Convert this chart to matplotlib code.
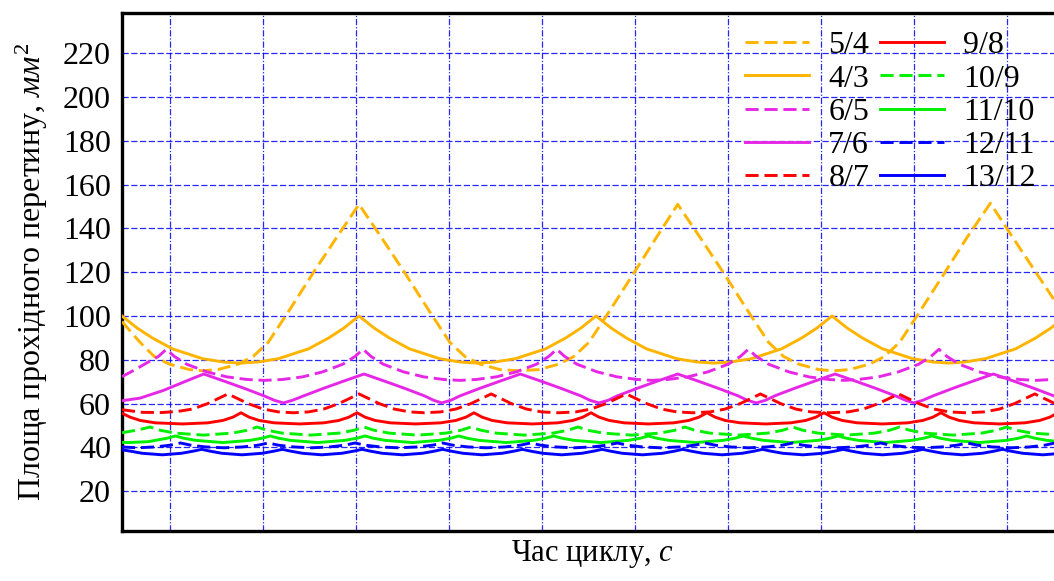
import matplotlib
matplotlib.use("Agg")
import matplotlib.pyplot as plt

plt.rcParams['font.family'] = ['Liberation Serif', 'DejaVu Serif']
plt.rcParams['mathtext.fontset'] = 'custom'
plt.rcParams['mathtext.rm'] = 'Liberation Serif'
plt.rcParams['mathtext.it'] = 'Liberation Serif:italic'

# час (умовні одиниці) і площа прохідного перетину, мм^2
t_54 = [0, 12, 20, 32, 47, 67, 80, 95, 115, 130, 145, 165, 190, 213, 235, 257, 280, 305, 325, 340,
        355, 375, 393, 413, 433, 448, 463, 483, 508, 530, 551, 573, 596, 621, 641, 656, 671, 691,
        706, 721, 741, 756, 771, 791, 816, 838, 861, 883, 906, 932]
a_54 = [97.5, 91, 87, 81.5, 78, 75.5, 75, 75.5, 78, 81.5, 88, 102, 120, 136, 151, 136, 120, 102, 88,
        81.5, 78, 75.5, 75, 75.5, 78, 81.5, 88, 102, 120, 136, 151, 136, 120, 102, 88, 81.5, 78,
        75.5, 75, 75.5, 78, 81.5, 88, 102, 120, 136, 151.5, 136, 120, 102]

t_43 = [0, 15, 30, 50, 80, 100, 117, 135, 155, 185, 205, 220, 235, 250, 265, 285, 315, 335, 352,
        370, 390, 420, 440, 455, 470, 485, 500, 520, 550, 570, 587, 604, 624, 654, 674, 689, 704,
        719, 734, 754, 784, 804, 820, 836, 856, 886, 906, 921, 932]
a_43 = [100, 94.5, 90, 85, 80.5, 79, 78.5, 79, 80.5, 85, 90, 94.5, 100, 94.5, 90, 85, 80.5, 79, 78.5,
        79, 80.5, 85, 90, 94.5, 100, 94.5, 90, 85, 80.5, 79, 78.5, 79, 80.5, 85, 90, 94.5, 100,
        94.5, 90, 85, 80.5, 79, 78.5, 79, 80.5, 85, 90, 94.5, 98.5]

t_65 = [0, 13, 28, 36, 44, 52, 64, 84, 104, 124, 141, 159, 179, 199, 219, 231, 239, 247, 259, 279,
        299, 319, 335, 351, 371, 391, 411, 423, 431, 439, 451, 471, 491, 511, 526, 541, 561, 581,
        601, 613, 621, 629, 641, 661, 681, 701, 716, 730, 750, 770, 790, 802, 810, 818, 830, 850,
        870, 890, 906, 922, 932]
a_65 = [72.3, 75.5, 79.5, 81.5, 84.8, 81.5, 78, 74.5, 72.2, 71, 70.6, 71, 72.2, 74.5, 78, 81.5, 84.8,
        81.5, 78, 74.5, 72.2, 71, 70.6, 71, 72.2, 74.5, 78, 81.5, 84.8, 81.5, 78, 74.5, 72.2, 71,
        70.6, 71, 72.2, 74.5, 78, 81.5, 84.8, 81.5, 78, 74.5, 72.2, 71, 70.6, 71, 72.2, 74.5, 78,
        81.5, 84.8, 81.5, 78, 74.5, 72.2, 71, 70.6, 71, 71.6]

t_76 = [0, 18, 41, 61, 81, 101, 121, 141, 151, 160, 169, 180, 200, 220, 240, 260, 280, 300, 309,
        317, 326, 335, 355, 375, 395, 415, 435, 455, 464, 473, 482, 491, 511, 531, 551, 571, 591,
        611, 620, 629, 638, 647, 667, 687, 707, 727, 747, 767, 777, 785, 794, 804, 824, 844, 864,
        884, 904, 924, 932]
a_76 = [61.3, 62.5, 66, 69.8, 73.5, 70.3, 67, 63.5, 61.5, 60.3, 61.5, 63.5, 67, 70.3, 73.5, 70.3, 67,
        63.5, 61.5, 60.3, 61.5, 63.5, 67, 70.3, 73.5, 70.3, 67, 63.5, 61.5, 60.3, 61.5, 63.5, 67,
        70.3, 73.5, 70.3, 67, 63.5, 61.5, 60.3, 61.5, 63.5, 67, 70.3, 73.5, 70.3, 67, 63.5, 61.5,
        60.3, 61.5, 63.5, 67, 70.3, 73.5, 70.3, 67, 63.5, 62]

t_87 = [0, 20, 39, 55, 70, 85, 95, 105, 115, 125, 140, 155, 170, 185, 200, 215, 225, 235, 245, 255,
        270, 285, 300, 316, 331, 346, 356, 366, 376, 386, 401, 416, 433, 450, 465, 480, 490, 500,
        510, 520, 535, 550, 566, 583, 598, 613, 623, 633, 643, 653, 668, 683, 701, 720, 735, 750,
        760, 770, 780, 790, 805, 820, 837, 855, 870, 885, 895, 905, 915, 925, 932]
a_87 = [57.2, 56, 55.9, 56.4, 57.5, 60, 62.2, 64.4, 62.2, 60, 57.5, 56.2, 55.8, 56.2, 57.5, 60, 62.2,
        64.4, 62.2, 60, 57.5, 56.2, 55.8, 56.2, 57.5, 60, 62.2, 64.4, 62.2, 60, 57.5, 56.2, 55.8,
        56.2, 57.5, 60, 62.2, 64.4, 62.2, 60, 57.5, 56.2, 55.8, 56.2, 57.5, 60, 62.2, 64.4, 62.2,
        60, 57.5, 56.2, 55.8, 56.2, 57.5, 60, 62.2, 64.4, 62.2, 60, 57.5, 56.2, 55.8, 56.2, 57.5,
        60, 62.2, 64.4, 62.2, 60, 58.6]

t_98 = [0, 8, 18, 33, 60, 85, 100, 110, 118, 126, 136, 151, 176, 200, 215, 225, 233, 241, 251, 266,
        291, 316, 331, 341, 349, 357, 367, 382, 407, 432, 447, 457, 465, 473, 483, 498, 522, 547,
        562, 572, 580, 588, 598, 613, 638, 663, 678, 688, 696, 704, 714, 729, 754, 779, 794, 804,
        812, 820, 830, 845, 870, 895, 910, 920, 928, 932]
a_98 = [55.6, 53.8, 52.3, 51.2, 50.7, 51.2, 52.3, 53.8, 55.8, 53.8, 52.3, 51.2, 50.7, 51.2, 52.3,
        53.8, 55.8, 53.8, 52.3, 51.2, 50.7, 51.2, 52.3, 53.8, 55.8, 53.8, 52.3, 51.2, 50.7, 51.2,
        52.3, 53.8, 55.8, 53.8, 52.3, 51.2, 50.7, 51.2, 52.3, 53.8, 55.8, 53.8, 52.3, 51.2, 50.7,
        51.2, 52.3, 53.8, 55.8, 53.8, 52.3, 51.2, 50.7, 51.2, 52.3, 53.8, 55.8, 53.8, 52.3, 51.2,
        50.7, 51.2, 52.3, 53.8, 55.8, 55.3]

t_109 = [0, 10, 18, 28, 38, 53, 81, 109, 124, 134, 144, 159, 187, 215, 230, 240, 250, 265, 293, 321,
         336, 346, 356, 371, 399, 427, 442, 452, 462, 477, 505, 533, 548, 558, 568, 583, 611, 640,
         655, 665, 675, 690, 718, 746, 761, 771, 781, 796, 824, 852, 867, 877, 887, 902, 932]
a_109 = [46.7, 47.5, 48.2, 49.3, 47.8, 46.5, 45.6, 46.5, 47.8, 49.3, 47.8, 46.5, 45.6, 46.5, 47.8,
         49.3, 47.8, 46.5, 45.6, 46.5, 47.8, 49.3, 47.8, 46.5, 45.6, 46.5, 47.8, 49.3, 47.8, 46.5,
         45.6, 46.5, 47.8, 49.3, 47.8, 46.5, 45.6, 46.5, 47.8, 49.3, 47.8, 46.5, 45.6, 46.5, 47.8,
         49.3, 47.8, 46.5, 45.6, 46.5, 47.8, 49.3, 47.8, 46.5, 45.6]

t_1110 = [0, 6, 26, 33, 45, 53, 61, 73, 100, 127, 139, 147, 155, 167, 194, 221, 233, 241, 249, 261,
          288, 314, 326, 334, 342, 354, 381, 408, 420, 428, 436, 448, 475, 502, 514, 522, 530, 542,
          569, 596, 608, 616, 624, 636, 663, 690, 702, 710, 718, 730, 757, 783, 795, 803, 811, 823,
          850, 877, 889, 897, 905, 917, 932]
a_1110 = [42.3, 42.2, 42.6, 43.2, 44.2, 45.2, 44.2, 43.2, 42.2, 43.2, 44.2, 45.2, 44.2, 43.2, 42.2,
          43.2, 44.2, 45.2, 44.2, 43.2, 42.2, 43.2, 44.2, 45.2, 44.2, 43.2, 42.2, 43.2, 44.2, 45.2,
          44.2, 43.2, 42.2, 43.2, 44.2, 45.2, 44.2, 43.2, 42.2, 43.2, 44.2, 45.2, 44.2, 43.2, 42.2,
          43.2, 44.2, 45.2, 44.2, 43.2, 42.2, 43.2, 44.2, 45.2, 44.2, 43.2, 42.2, 43.2, 44.2, 45.2,
          44.2, 43.2, 42.6]

t_1211 = [0, 15, 33, 48, 58, 68, 83, 101, 120, 135, 145, 155, 170, 188, 206, 221, 231, 241, 256,
          274, 293, 308, 318, 328, 343, 361, 380, 395, 405, 415, 430, 448, 466, 481, 491, 501, 516,
          534, 553, 568, 578, 588, 603, 621, 640, 655, 665, 675, 690, 708, 727, 742, 752, 762, 777,
          795, 813, 828, 838, 848, 863, 881, 900, 915, 925, 932]
a_1211 = [40.2, 39.8, 40.2, 41, 42, 41, 40.2, 39.8, 40.2, 41, 42, 41, 40.2, 39.8, 40.2, 41, 42, 41,
          40.2, 39.8, 40.2, 41, 42, 41, 40.2, 39.8, 40.2, 41, 42, 41, 40.2, 39.8, 40.2, 41, 42, 41,
          40.2, 39.8, 40.2, 41, 42, 41, 40.2, 39.8, 40.2, 41, 42, 41, 40.2, 39.8, 40.2, 41, 42, 41,
          40.2, 39.8, 40.2, 41, 42, 41, 40.2, 39.8, 40.2, 41, 42, 41.3]

t_1312 = [0, 8, 20, 40, 59, 71, 79, 87, 99, 119, 139, 151, 159, 167, 179, 198, 218, 230, 238, 246,
          258, 278, 298, 310, 318, 326, 338, 357, 377, 389, 397, 405, 417, 436, 456, 468, 476, 484,
          496, 516, 536, 548, 556, 564, 576, 595, 615, 627, 635, 643, 655, 675, 695, 707, 715, 723,
          735, 754, 774, 786, 794, 802, 814, 833, 853, 865, 873, 881, 893, 913, 932]
a_1312 = [38.9, 38.3, 37.3, 36.6, 37.3, 38.3, 39.1, 38.3, 37.3, 36.6, 37.3, 38.3, 39.1, 38.3, 37.3,
          36.6, 37.3, 38.3, 39.1, 38.3, 37.3, 36.6, 37.3, 38.3, 39.1, 38.3, 37.3, 36.6, 37.3, 38.3,
          39.1, 38.3, 37.3, 36.6, 37.3, 38.3, 39.1, 38.3, 37.3, 36.6, 37.3, 38.3, 39.1, 38.3, 37.3,
          36.6, 37.3, 38.3, 39.1, 38.3, 37.3, 36.6, 37.3, 38.3, 39.1, 38.3, 37.3, 36.6, 37.3, 38.3,
          39.1, 38.3, 37.3, 36.6, 37.3, 38.3, 39.1, 38.3, 37.3, 36.6, 37.3]

series = [
    ('5/4', t_54, a_54, '#ffb400', 'dash'),
    ('4/3', t_43, a_43, '#ffb400', 'solid'),
    ('6/5', t_65, a_65, '#e628e6', 'dash'),
    ('7/6', t_76, a_76, '#e628e6', 'solid'),
    ('8/7', t_87, a_87, '#ff0000', 'dash'),
    ('9/8', t_98, a_98, '#ff0000', 'solid'),
    ('10/9', t_109, a_109, '#00f000', 'dash'),
    ('11/10', t_1110, a_1110, '#00f000', 'solid'),
    ('12/11', t_1211, a_1211, '#0000ff', 'dash'),
    ('13/12', t_1312, a_1312, '#0000ff', 'solid'),
]

y_ticks = [20, 40, 60, 80, 100, 120, 140, 160, 180, 200, 220]
x_grid = [47.3, 139.5, 231.7, 323.9, 416.1, 508.3, 600.5, 692.7, 784.9, 877.1]

fig = plt.figure(figsize=(10.54, 5.81), dpi=100)
ax = fig.add_axes([122 / 1054, 1 - 531 / 581, 940 / 1054, 518 / 581])

for label, t, a, color, style in series:
    ls = (0, (4.5, 2)) if style == 'dash' else '-'
    ax.plot(t, a, color=color, lw=2.1, linestyle=ls, label=label, zorder=3)

ax.set_xlim(0, 932)
ax.set_ylim(1.8, 238.4)
ax.set_yticks(y_ticks)
ax.set_xticks(x_grid)
ax.set_xticklabels([])
ax.tick_params(length=0, labelsize=23, pad=8)

ax.grid(axis='y', color='#0000ff', lw=0.9, linestyle=(0, (5, 2)), alpha=0.85)
ax.grid(axis='x', color='#0000ff', lw=0.9, linestyle=(0, (5, 1.5, 1, 1.5)), alpha=0.85)

for side in ['left', 'bottom', 'top']:
    ax.spines[side].set_linewidth(2.4)
    ax.spines[side].set_color('black')
ax.spines['right'].set_visible(False)

ax.set_ylabel(r'Площа прохідного перетину, $\mathit{мм}^{\mathrm{2}}$', fontsize=23, labelpad=9)
ax.set_xlabel(r'Час циклу, $\mathit{с}$', fontsize=22, labelpad=-3)

leg = ax.legend(ncol=2, loc='upper right', bbox_to_anchor=(1036 / 1054, 1 - 31 / 581),
                bbox_transform=fig.transFigure, frameon=False, fontsize=23,
                handlelength=2.0, handletextpad=0.6, columnspacing=0.35,
                labelspacing=0.12, borderaxespad=0, borderpad=0)

fig.savefig('out.png', dpi=100)
